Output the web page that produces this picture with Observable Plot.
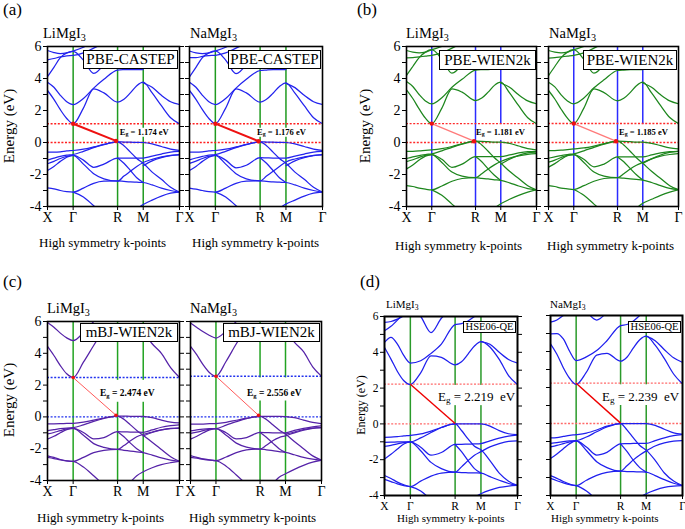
<!DOCTYPE html>
<html><head><meta charset="utf-8">
<script src="https://cdn.jsdelivr.net/npm/d3@7"></script>
<script src="https://cdn.jsdelivr.net/npm/@observablehq/plot@0.6"></script>
<style>
body{margin:0;background:#fff;}
#root{position:relative;width:685px;height:529px;overflow:hidden;font-family:"Liberation Serif","Times New Roman",serif;color:#000;}
.abs{position:absolute;white-space:nowrap;line-height:1;}
.abs sub{font-size:70%;vertical-align:-0.28em;line-height:0;}
.box{position:absolute;background:#fff;border:1.5px solid #000;box-sizing:border-box;display:flex;align-items:center;justify-content:center;white-space:nowrap;line-height:1;}
</style></head><body><div id="root"></div><script>
const N = null;
// k-path: X, Γ, R, M, Γ (units of 2π/a) and sample positions
const kPath = [0,0.125,0.25,0.375,0.5,0.7,0.9,1.1,1.366,1.49,1.616,1.74,1.866,2.04,2.22,2.4,2.573];
const kTicks = [0,0.5,1.366,1.866,2.573];
const kLabels = ["X","Γ","R","M","Γ"];
const yMajor = [-4,-2,0,2,4,6];
const yMinor = [-3,-1,1,3,5];
const compounds = ["LiMgI", "NaMgI"];
const methods = ["PBE-CASTEP","PBE-WIEN2k","mBJ-WIEN2k","HSE06-QE"];
const gapEg = [[1.174,1.176],[1.181,1.185],[2.474,2.556],[2.219,2.239]];
const vbmAtR = [[0.1,0.08],[0.08,0.08],[0.1,0.1],[0.02,0.02]];

const bandsCastepLi = [
 [3.25,2.7,2.05,1.5,1.17,2.15,3.35,3.1,2.52,2.7,3.1,3.55,3.77,3.1,2.3,1.55,1.17],
 [3.77,3.45,2.95,2.55,2.37,2.75,3.4,3.95,4.52,4.55,4.56,4.56,4.56,N,N,N,N],
 [N,N,N,N,N,N,N,N,N,N,N,N,3.72,3.45,2.95,2.55,2.37],
 [4.12,4.7,5.3,5.6,5.7,5.15,4.32,4.9,N,N,N,N,N,N,N,N,N],
 [5.17,5.25,5.35,5.42,5.44,5.6,5.9,6.2,N,N,N,N,N,N,N,N,N],
 [5.75,5.62,5.55,5.6,5.72,5.95,6.3,N,N,N,N,N,N,N,N,N,N],
 [-0.6,-0.6,-0.58,-0.53,-0.5,-0.42,-0.28,-0.12,0.04,0.03,0.02,0.01,0.0,-0.08,-0.25,-0.42,-0.5],
 [-1.1,-0.98,-0.87,-0.79,-0.75,-0.55,-0.32,-0.13,0.04,-0.2,-0.6,-1.0,-1.3,-1.85,-2.3,-2.8,-3.1],
 [-1.33,-1.18,-1.0,-0.87,-0.8,-1.1,-1.55,-1.35,-0.97,-0.97,-0.98,-0.98,-0.97,-0.85,-0.72,-0.6,-0.55],
 [-1.75,-1.5,-1.18,-0.92,-0.8,-1.35,-1.95,-2.27,-2.42,-2.1,-1.8,-1.5,-1.25,-1.05,-0.9,-0.8,-0.75],
 [-2.83,-2.9,-3.0,-3.07,-3.1,-2.85,-2.55,-2.42,-2.4,-2.43,-2.46,-2.48,-2.5,-2.65,-2.85,-3.0,-3.1],
 [N,N,N,N,N,N,N,N,-0.97,-1.3,-1.75,-2.2,-2.5,N,N,N,N],
 [N,N,N,N,-3.1,-3.4,-3.95,-4.5,N,N,N,-4.15,-3.88,-3.6,-3.35,-3.17,-3.1],
 [N,N,N,N,N,N,N,N,N,N,N,N,-1.45,-1.15,-0.95,-0.82,-0.78]
];
const bandsCastepNa = [
 [3.25,2.7,2.05,1.5,1.18,2.15,3.35,3.1,2.52,2.7,3.08,3.5,3.73,3.08,2.3,1.55,1.18],
 [3.77,3.45,2.95,2.55,2.37,2.75,3.4,3.95,4.5,4.53,4.55,4.55,4.55,N,N,N,N],
 [N,N,N,N,N,N,N,N,N,N,N,N,3.7,3.43,2.95,2.55,2.37],
 [4.1,4.7,5.3,5.6,5.72,5.15,4.3,4.9,N,N,N,N,N,N,N,N,N],
 [5.3,5.3,5.38,5.43,5.45,5.6,5.9,6.2,N,N,N,N,N,N,N,N,N],
 [5.72,5.6,5.55,5.6,5.72,5.95,6.3,N,N,N,N,N,N,N,N,N,N],
 [-0.6,-0.6,-0.58,-0.53,-0.5,-0.42,-0.28,-0.12,0.04,0.03,0.02,0.01,0.0,-0.08,-0.25,-0.42,-0.5],
 [-1.08,-0.97,-0.87,-0.79,-0.76,-0.55,-0.32,-0.13,0.04,-0.2,-0.6,-1.0,-1.3,-1.85,-2.3,-2.8,-3.1],
 [-1.3,-1.16,-1.0,-0.87,-0.8,-1.1,-1.58,-1.42,-0.95,-0.96,-0.97,-0.97,-0.97,-0.85,-0.72,-0.6,-0.55],
 [-1.75,-1.5,-1.18,-0.92,-0.8,-1.35,-1.95,-2.27,-2.4,-2.1,-1.8,-1.5,-1.22,-1.03,-0.9,-0.8,-0.75],
 [-2.85,-2.92,-3.0,-3.07,-3.1,-2.85,-2.55,-2.42,-2.4,-2.43,-2.46,-2.48,-2.5,-2.65,-2.85,-3.0,-3.1],
 [N,N,N,N,N,N,N,N,-0.95,-1.3,-1.75,-2.2,-2.5,N,N,N,N],
 [N,N,N,N,-3.1,-3.4,-3.95,-4.5,N,N,N,-4.1,-3.85,-3.6,-3.35,-3.17,-3.1],
 [N,N,N,N,N,N,N,N,N,N,N,N,-1.45,-1.15,-0.95,-0.82,-0.78]
];
const bandsWienLi = [
 [3.29,2.75,2.1,1.52,1.18,2.15,3.35,3.15,2.62,2.78,3.15,3.57,3.77,3.1,2.3,1.55,1.18],
 [3.81,3.5,3.0,2.6,2.42,2.8,3.45,3.95,4.52,4.55,4.56,4.57,4.57,N,N,N,N],
 [N,N,N,N,N,N,N,N,N,N,N,N,3.72,3.45,2.98,2.6,2.42],
 [4.2,4.75,5.3,5.65,5.8,5.2,4.33,4.9,N,N,N,N,N,N,N,N,N],
 [5.29,5.3,5.35,5.4,5.45,5.6,5.9,6.2,N,N,N,N,N,N,N,N,N],
 [5.75,5.65,5.6,5.65,5.8,6.0,6.3,N,N,N,N,N,N,N,N,N,N],
 [-0.55,-0.55,-0.53,-0.49,-0.46,-0.38,-0.25,-0.08,0.08,0.07,0.05,0.03,0.02,-0.05,-0.22,-0.38,-0.46],
 [-1.0,-0.9,-0.82,-0.75,-0.71,-0.52,-0.3,-0.1,0.08,-0.15,-0.55,-0.95,-1.29,-1.8,-2.25,-2.7,-2.96],
 [-1.2,-1.08,-0.93,-0.8,-0.75,-1.05,-1.55,-1.35,-0.88,-0.88,-0.88,-0.88,-0.88,-0.78,-0.65,-0.57,-0.55],
 [-1.65,-1.4,-1.1,-0.85,-0.75,-1.25,-1.85,-2.1,-2.2,-1.95,-1.65,-1.4,-1.19,-0.98,-0.83,-0.74,-0.7],
 [-2.69,-2.75,-2.85,-2.92,-2.96,-2.72,-2.42,-2.25,-2.2,-2.24,-2.28,-2.33,-2.37,-2.52,-2.72,-2.88,-2.96],
 [N,N,N,N,N,N,N,N,-0.88,-1.2,-1.65,-2.05,-2.37,N,N,N,N],
 [N,N,N,N,-2.96,-3.3,-3.85,-4.4,N,N,N,-4.1,-3.83,-3.55,-3.3,-3.1,-2.96],
 [N,N,N,N,N,N,N,N,N,N,N,N,-1.35,-1.05,-0.8,-0.65,-0.6]
];
const bandsWienNa = [
 [3.25,2.72,2.08,1.52,1.19,2.15,3.35,3.12,2.6,2.76,3.12,3.55,3.77,3.1,2.3,1.56,1.19],
 [3.77,3.48,2.98,2.6,2.42,2.78,3.42,3.92,4.5,4.53,4.55,4.56,4.56,N,N,N,N],
 [N,N,N,N,N,N,N,N,N,N,N,N,3.72,3.45,2.98,2.6,2.42],
 [4.18,4.75,5.3,5.65,5.8,5.2,4.33,4.9,N,N,N,N,N,N,N,N,N],
 [5.28,5.3,5.35,5.4,5.45,5.6,5.9,6.2,N,N,N,N,N,N,N,N,N],
 [5.75,5.65,5.6,5.65,5.8,6.0,6.3,N,N,N,N,N,N,N,N,N,N],
 [-0.5,-0.5,-0.48,-0.44,-0.4,-0.34,-0.22,-0.07,0.08,0.07,0.05,0.03,0.02,-0.05,-0.2,-0.34,-0.4],
 [-0.98,-0.9,-0.82,-0.75,-0.71,-0.52,-0.3,-0.1,0.08,-0.15,-0.55,-0.95,-1.3,-1.8,-2.25,-2.7,-2.95],
 [-1.23,-1.1,-0.94,-0.8,-0.75,-1.05,-1.52,-1.35,-0.9,-0.9,-0.9,-0.9,-0.9,-0.78,-0.65,-0.57,-0.55],
 [-1.54,-1.32,-1.05,-0.83,-0.75,-1.25,-1.85,-2.1,-2.2,-1.95,-1.66,-1.42,-1.25,-1.02,-0.85,-0.75,-0.7],
 [-2.69,-2.75,-2.85,-2.9,-2.94,-2.7,-2.42,-2.25,-2.2,-2.23,-2.27,-2.31,-2.35,-2.5,-2.7,-2.87,-2.95],
 [N,N,N,N,N,N,N,N,-0.9,-1.2,-1.62,-2.02,-2.35,N,N,N,N],
 [N,N,N,N,-2.94,-3.3,-3.85,-4.4,N,N,N,-4.1,-3.8,-3.55,-3.3,-3.1,-2.95],
 [N,N,N,N,N,N,N,N,N,N,N,N,-1.3,-1.02,-0.78,-0.62,-0.55]
];
const bandsMbjLi = [
 [4.43,3.86,3.23,2.71,2.48,3.44,4.49,5.5,N,N,N,N,5.4,4.6,4.0,3.1,2.48],
 [5.94,5.64,5.27,4.97,4.8,5.3,6.0,N,N,N,N,N,N,N,N,N,N],
 [-0.44,-0.44,-0.43,-0.41,-0.4,-0.33,-0.2,-0.07,0.05,0.05,0.04,0.04,0.03,-0.05,-0.2,-0.33,-0.38],
 [-0.86,-0.8,-0.74,-0.7,-0.68,-0.5,-0.28,-0.1,0.05,-0.15,-0.5,-0.85,-1.15,-1.6,-2.05,-2.5,-2.8],
 [-1.07,-0.98,-0.86,-0.76,-0.72,-0.98,-1.38,-1.3,-0.93,-0.94,-0.95,-0.96,-0.97,-0.82,-0.65,-0.55,-0.5],
 [-1.4,-1.22,-1.0,-0.8,-0.72,-1.15,-1.68,-1.92,-2.05,-1.8,-1.5,-1.25,-1.1,-0.95,-0.82,-0.73,-0.7],
 [-2.45,-2.55,-2.68,-2.76,-2.8,-2.55,-2.25,-2.1,-2.05,-2.1,-2.15,-2.2,-2.25,-2.4,-2.58,-2.72,-2.8],
 [N,N,N,N,N,N,N,N,-0.93,-1.25,-1.65,-2.0,-2.25,N,N,N,N],
 [-2.55,-2.62,-2.7,-2.77,-2.8,-3.15,-3.7,-4.3,N,N,-4.1,-3.7,-3.45,-3.2,-3.0,-2.88,-2.8],
 [N,N,N,N,N,N,N,N,N,N,N,N,-1.2,-0.98,-0.82,-0.72,-0.7]
];
const bandsMbjNa = [
 [4.44,3.9,3.27,2.78,2.56,3.5,4.6,5.6,N,N,N,N,5.5,4.7,4.1,3.15,2.56],
 [5.9,5.62,5.35,5.12,4.96,5.4,6.0,N,N,N,N,N,N,N,N,N,N],
 [-0.46,-0.46,-0.45,-0.43,-0.42,-0.34,-0.21,-0.08,0.03,0.03,0.03,0.03,0.02,-0.05,-0.2,-0.35,-0.42],
 [-0.88,-0.82,-0.77,-0.74,-0.73,-0.52,-0.3,-0.11,0.03,-0.16,-0.5,-0.82,-1.08,-1.55,-2.0,-2.45,-2.72],
 [-1.04,-0.96,-0.86,-0.77,-0.73,-1.0,-1.38,-1.3,-0.98,-0.99,-1.0,-1.0,-1.0,-0.85,-0.72,-0.62,-0.56],
 [-1.4,-1.22,-1.0,-0.82,-0.73,-1.15,-1.65,-1.9,-2.02,-1.78,-1.5,-1.3,-1.19,-1.0,-0.84,-0.72,-0.67],
 [-2.44,-2.54,-2.64,-2.7,-2.75,-2.52,-2.25,-2.08,-2.02,-2.07,-2.12,-2.18,-2.23,-2.38,-2.55,-2.66,-2.72],
 [N,N,N,N,N,N,N,N,-0.98,-1.28,-1.65,-2.0,-2.23,N,N,N,N],
 [-2.55,-2.6,-2.67,-2.72,-2.75,-3.1,-3.65,-4.25,N,N,-4.2,-3.8,-3.58,-3.3,-3.05,-2.85,-2.72],
 [N,N,N,N,N,N,N,N,N,N,N,N,-1.08,-0.95,-0.8,-0.7,-0.67]
];
const bandsHseLi = [
 [4.27,3.62,2.93,2.41,2.2,2.85,3.8,3.72,3.3,3.47,3.9,4.35,4.6,4.3,3.6,2.7,2.2],
 [4.55,4.83,4.46,3.81,3.4,3.53,3.94,4.46,5.55,5.6,5.75,6.0,6.3,N,N,N,N],
 [N,N,N,N,N,N,N,N,N,N,N,N,4.6,4.45,4.0,3.6,3.4],
 [5.2,5.45,5.8,6.2,N,N,N,N,N,N,N,N,N,N,N,N,N],
 [N,N,N,N,6.5,6.0,5.1,5.9,6.5,N,N,N,N,N,N,N,N],
 [5.67,5.72,5.85,6.05,N,N,N,N,N,N,N,N,N,N,N,N,N],
 [-0.75,-0.74,-0.71,-0.67,-0.64,-0.56,-0.4,-0.2,0.0,0.0,0.0,0.0,0.0,-0.12,-0.38,-0.55,-0.6],
 [-1.03,-1.02,-1.01,-1.0,-1.0,-0.78,-0.48,-0.2,0.0,-0.37,-0.84,-1.25,-1.45,-2.05,-2.75,-3.2,-3.44],
 [-1.25,-1.2,-1.12,-1.04,-1.0,-1.3,-1.75,-1.6,-1.15,-1.14,-1.13,-1.12,-1.1,-0.95,-0.8,-0.68,-0.62],
 [-1.96,-1.7,-1.4,-1.12,-1.0,-1.5,-2.15,-2.5,-2.7,-2.4,-2.05,-1.75,-1.55,-1.28,-1.1,-0.98,-0.95],
 [-2.88,-3.05,-3.25,-3.4,-3.5,-3.2,-2.92,-2.75,-2.7,-2.72,-2.73,-2.74,-2.75,-2.95,-3.15,-3.33,-3.44],
 [N,N,N,N,N,N,N,N,-1.15,-1.55,-2.05,-2.5,-2.75,N,N,N,N],
 [-3.1,-3.22,-3.35,-3.45,-3.5,-3.75,-4.25,N,N,N,N,-4.1,-3.9,-3.7,-3.55,-3.47,-3.44]
];
const bandsHseNa = [
 [4.43,3.85,3.1,2.5,2.17,2.85,3.8,3.9,3.46,3.68,4.2,4.65,4.85,4.35,3.6,2.75,2.2],
 [4.98,5.0,4.7,4.0,3.5,3.7,4.05,4.6,5.44,5.5,5.7,6.0,6.3,N,N,N,N],
 [N,N,N,N,N,N,N,N,N,N,N,N,4.85,4.6,4.1,3.65,3.4],
 [5.63,5.75,6.0,6.3,N,N,N,N,N,N,N,N,N,N,N,N,N],
 [N,N,N,N,6.6,6.2,5.75,6.2,N,N,N,N,N,N,N,N,N],
 [-0.8,-0.78,-0.72,-0.66,-0.62,-0.53,-0.36,-0.15,0.0,0.0,0.0,0.0,0.0,-0.1,-0.32,-0.52,-0.6],
 [-1.1,-1.06,-1.01,-0.97,-0.95,-0.75,-0.46,-0.19,0.0,-0.35,-0.8,-1.22,-1.48,-2.05,-2.75,-3.2,-3.45],
 [-1.3,-1.22,-1.12,-1.02,-0.97,-1.3,-1.75,-1.6,-1.13,-1.12,-1.11,-1.1,-1.1,-0.95,-0.8,-0.68,-0.62],
 [-1.95,-1.7,-1.4,-1.12,-0.97,-1.5,-2.12,-2.45,-2.65,-2.35,-2.02,-1.75,-1.52,-1.25,-1.08,-0.98,-0.95],
 [-2.9,-3.05,-3.22,-3.37,-3.45,-3.15,-2.88,-2.72,-2.65,-2.67,-2.68,-2.69,-2.7,-2.9,-3.12,-3.32,-3.45],
 [N,N,N,N,N,N,N,N,-1.13,-1.55,-2.05,-2.45,-2.7,N,N,N,N],
 [-3.05,-3.18,-3.3,-3.4,-3.45,-3.75,-4.25,N,N,N,N,-4.1,-3.9,-3.7,-3.55,-3.48,-3.45]
];

// ---------- layout / style (not data) ----------
const FONT = '"Liberation Serif","Times New Roman",serif';
const root = document.getElementById("root");
const kName = new Map(kTicks.map((k,i)=>[k,kLabels[i]]));

const styles = [
 {band:"#2323ee", vline:"#1f9a1f", dot:"#ff1f1f", dotW:1.4, arrow:"#ee1111", arrowW:2, arrowDot:2.2, dotFill:"#ee1111", tick:14, frameW:1.6, egFont:8.5, egBold:true},
 {band:"#1d861d", vline:"#2b2bff", dot:"#ff2a2a", dotW:1.4, arrow:"#ff7a7a", arrowW:1.3, arrowDot:2.2, dotFill:"#ee1111", tick:14, frameW:1.6, egFont:8.5, egBold:true},
 {band:"#5522a8", vline:"#22a322", dot:"#2233ee", dotW:1.4, arrow:"#ff5a5a", arrowW:1, arrowDot:1.8, dotFill:"#ee1111", tick:14, frameW:1.6, egFont:9.5, egBold:true},
 {band:"#1f1fee", vline:"#2a9a2a", dot:"#ff6a6a", dotW:1.3, arrow:"#ee0000", arrowW:1.4, arrowDot:0, dotFill:"#ee0000", tick:11.5, frameW:2, egFont:13, egBold:false}
];
const panelFrames = [
 [[47,46,179,206],[189,46,322,206]],
 [[406,46,536,206],[548,46,678,206]],
 [[47,321,179,480],[190,321,321,480]],
 [[384,316,517,495],[550,315,682,495]]
];
const panelBands = [[bandsCastepLi,bandsCastepNa],[bandsWienLi,bandsWienNa],[bandsMbjLi,bandsMbjNa],[bandsHseLi,bandsHseNa]];
const masks = [
 [null,null],
 [{k1:1.40,k2:2.40,e1:0.12,e2:1.12},{k1:1.40,k2:2.42,e1:0.12,e2:1.12}],
 [{k1:1.05,k2:1.95,e1:0.92,e2:2.3},{k1:1.05,k2:1.95,e1:1.0,e2:2.45}],
 [{k1:1.1,k2:2.3,e1:1.02,e2:2.15},{k1:1.1,k2:2.3,e1:1.0,e2:2.15}]
];
const egPos = [
 [[1.42,0.62],[1.315,0.62]],
 [[1.385,0.62],[1.405,0.62]],
 [[1.033,1.41],[1.12,1.41]],
 [[1.045,1.52],[1.013,1.5]]
];
const legendBoxes = [
 [[83,50,95,19],[228,50,93,19]],
 [[439,50,97,20],[583,50,94,20]],
 [[80,323,98,19],[223,323,97,19]],
 [[463,321,53,12],[628,321,53,12]]
];
const legendFont = [15,15,15,10.5];
const compoundLabel = [ // left, top, font
 [[43,26,14.5],[190,26,14.5]],
 [[406,26,14.5],[549,26,14.5]],
 [[47,301,14.5],[190,301,14.5]],
 [[386,298.5,11],[550,298.5,11]]
];
const xLabelPos = [
 [[39,235.5,13],[192,235.5,13]],
 [[395,239,13],[547,239,13]],
 [[37,510.5,13],[189,510.5,13]],
 [[397,513,11],[551,513,11]]
];
const yLabelPos = [[9,126,15],[365,126,15],[9,400,15],[361,405,12]];
const panelTags = [["(a)",3,1],["(b)",357,1],["(c)",3,273],["(d)",360,273]];

function addDiv(html, left, top, css) {
  const d = document.createElement("div");
  d.className = "abs";
  d.innerHTML = html;
  d.style.left = left + "px"; d.style.top = top + "px";
  Object.assign(d.style, css || {});
  root.appendChild(d);
  return d;
}

function drawPanel(m, c) {
  const [fx0, fy0, fx1, fy1] = panelFrames[m][c];
  const st = styles[m];
  const mL = 40, mR = 8, mT = 6, mB = 26;
  const width = fx1 - fx0 + mL + mR, height = fy1 - fy0 + mT + mB;
  const rows = [];
  panelBands[m][c].forEach((b, j) => b.forEach((E, i) => rows.push({k: kPath[i], E, band: j})));
  const eg = gapEg[m][c];
  const arrow = {k1: kTicks[1], e1: eg, k2: m === 3 ? kTicks[2] : kTicks[2] - 0.03, e2: vbmAtR[m][c]};
  const marks = [Plot.ruleX(kTicks.slice(1, 4), {stroke: st.vline, strokeWidth: 1.5})];
  if (masks[m][c]) marks.push(Plot.rect([masks[m][c]], {x1: "k1", x2: "k2", y1: "e1", y2: "e2", fill: "white"}));
  marks.push(
    Plot.ruleY([0, eg], {stroke: st.dot, strokeWidth: st.dotW, strokeDasharray: "2,1.6"}),
    Plot.line(rows, {x: "k", y: "E", z: "band", stroke: st.band, strokeWidth: 1.25, curve: "monotone-x", clip: true}),
    Plot.link([arrow], {x1: "k1", y1: "e1", x2: "k2", y2: "e2", stroke: st.arrow, strokeWidth: st.arrowW})
  );
  if (st.arrowDot) marks.push(Plot.dot([arrow, arrow], {x: (d, i) => i ? d.k2 : d.k1, y: (d, i) => i ? d.e2 : d.e1, r: st.arrowDot, fill: st.dotFill}));
  marks.push(
    Plot.axisY({ticks: yMajor, tickSize: 4, tickPadding: 2, tickFormat: c === 0 ? (d => String(d)) : (() => ""), label: null}),
    Plot.axisY({ticks: yMinor, tickSize: 4, tickFormat: () => "", label: null})
  );
  if (c === 0) marks.push(Plot.axisY({anchor: "right", ticks: yMajor.concat(yMinor), tickSize: 4, tickFormat: () => "", label: null}));
  marks.push(
    Plot.axisX({ticks: kTicks, tickSize: 4, tickPadding: 2, tickFormat: d => kName.get(d), label: null}),
    Plot.frame({stroke: "black", strokeWidth: st.frameW})
  );
  const svg = Plot.plot({
    width, height, marginLeft: mL, marginRight: mR, marginTop: mT, marginBottom: mB,
    x: {domain: [0, 2.573], label: null}, y: {domain: [-4, 6], label: null},
    style: {fontFamily: FONT, fontSize: st.tick + "px", background: "transparent", overflow: "visible", color: "black"},
    marks
  });
  const sl = fx0 - mL, stp = fy0 - mT;
  svg.style.position = "absolute"; svg.style.left = sl + "px"; svg.style.top = stp + "px";
  root.appendChild(svg);
  // Eg annotation, placed through the plot's scales
  const xs = svg.scale("x"), ys = svg.scale("y");
  const [ek, ee] = egPos[m][c];
  const gapText = m === 3 ? eg.toFixed(3) + "&nbsp; eV" : eg.toFixed(3) + " eV";
  const lab = addDiv("E<sub>g</sub> = " + gapText, sl + xs.apply(ek), stp + ys.apply(ee),
    {fontSize: st.egFont + "px", fontWeight: st.egBold ? "bold" : "normal", transform: "translateY(-50%)",
     background: m === 0 ? "white" : "transparent"});
  // legend box
  const [bx, by, bw, bh] = legendBoxes[m][c];
  const b = document.createElement("div");
  b.className = "box";
  Object.assign(b.style, {left: bx + "px", top: by + "px", width: bw + "px", height: bh + "px", fontSize: legendFont[m] + "px", borderWidth: (m === 3 ? 1.3 : 1.5) + "px"});
  b.textContent = methods[m];
  root.appendChild(b);
  // compound label
  const [cl, ct, cf] = compoundLabel[m][c];
  addDiv(compounds[c] + "<sub>3</sub>", cl, ct, {fontSize: cf + "px"});
  // x label
  const [xl, xt, xf] = xLabelPos[m][c];
  addDiv("High symmetry k-points", xl, xt, {fontSize: xf + "px"});
}

for (let m = 0; m < 4; m++) for (let c = 0; c < 2; c++) drawPanel(m, c);

yLabelPos.forEach(([cx, cy, f]) => {
  addDiv("Energy (eV)", cx, cy, {fontSize: f + "px", transform: "translate(-50%,-50%) rotate(-90deg)"});
});
panelTags.forEach(([t, l, tp]) => addDiv(t, l, tp, {fontSize: "17px"}));
</script></body></html>
